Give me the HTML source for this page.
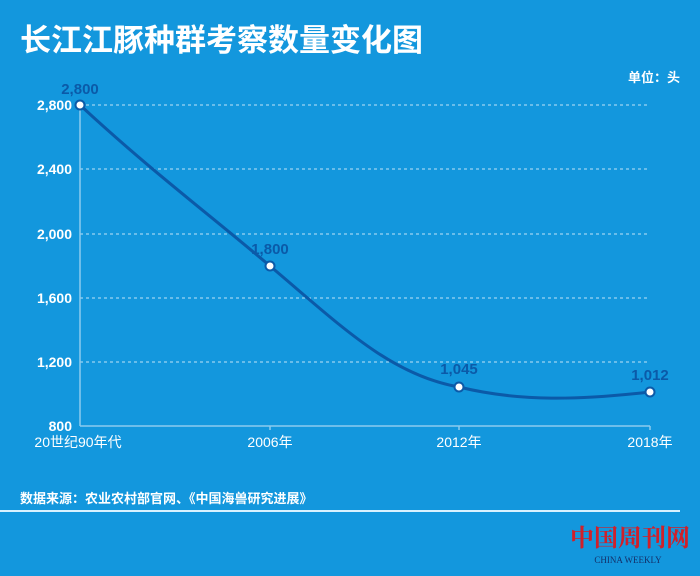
<!DOCTYPE html>
<html><head><meta charset="utf-8"><style>
body{margin:0;width:700px;height:576px;background:#1397dd;overflow:hidden;font-family:"Liberation Sans","Noto Sans CJK SC",sans-serif}
</style></head><body>
<svg width="700" height="576" xmlns="http://www.w3.org/2000/svg" style="position:absolute;left:0;top:0">
<text x="20" y="51" font-size="31" font-weight="bold" fill="#fff" font-family="Liberation Sans,Noto Sans CJK SC,sans-serif">长江江豚种群考察数量变化图</text>
<text x="680" y="82" font-size="13" font-weight="bold" fill="#fff" text-anchor="end" font-family="Liberation Sans,Noto Sans CJK SC,sans-serif">单位：头</text>
<g stroke="#bfe3f7" stroke-dasharray="3,3" stroke-width="1">
<line x1="80" y1="105" x2="648" y2="105"/><line x1="80" y1="169" x2="648" y2="169"/><line x1="80" y1="234" x2="648" y2="234"/><line x1="80" y1="298" x2="648" y2="298"/><line x1="80" y1="362" x2="648" y2="362"/>
</g>
<g stroke="#8ccbef" stroke-width="1.5">
<line x1="80" y1="105" x2="80" y2="426"/><line x1="80" y1="426" x2="650" y2="426"/>
<line x1="270" y1="426" x2="270" y2="430"/><line x1="459" y1="426" x2="459" y2="430"/><line x1="650" y1="426" x2="650" y2="430"/>
</g>
<g fill="#fff" font-size="14" font-weight="600" text-anchor="end">
<text x="72" y="110">2,800</text><text x="72" y="174">2,400</text><text x="72" y="239">2,000</text><text x="72" y="303">1,600</text><text x="72" y="367">1,200</text><text x="72" y="431">800</text>
</g>
<g fill="#fff" font-size="14" text-anchor="middle" font-family="Liberation Sans,Noto Sans CJK SC,sans-serif">
<text x="78" y="447">20世纪90年代</text><text x="270" y="447">2006年</text><text x="459" y="447">2012年</text><text x="650" y="447">2018年</text>
</g>
<path d="M80 105 C150 170 210 215 270 266 C340 325 390 375 459 387 C520 402 580 400 650 392" fill="none" stroke="#0b5aa8" stroke-width="3"/>
<g fill="#fff" stroke="#0b5aa8" stroke-width="2">
<circle cx="80" cy="105" r="4.5"/><circle cx="270" cy="266" r="4.5"/><circle cx="459" cy="387" r="4.5"/><circle cx="650" cy="392" r="4.5"/>
</g>
<g fill="#0b5aa8" font-size="15" font-weight="bold" text-anchor="middle">
<text x="80" y="94">2,800</text><text x="270" y="254">1,800</text><text x="459" y="374">1,045</text><text x="650" y="380">1,012</text>
</g>
<text x="20" y="503" font-size="13" font-weight="bold" fill="#fff" font-family="Liberation Sans,Noto Sans CJK SC,sans-serif">数据来源：农业农村部官网、《中国海兽研究进展》</text>
<line x1="0" y1="511" x2="680" y2="511" stroke="#d8f1ff" stroke-width="2"/>
<text x="630" y="546" font-size="24" font-weight="bold" fill="#d0202a" text-anchor="middle" font-family="Noto Serif CJK SC,serif">中国周刊网</text>
<text x="628" y="563" font-size="9" fill="#14306a" text-anchor="middle" font-family="Liberation Serif,serif">CHINA  WEEKLY</text>
</svg>
</body></html>
